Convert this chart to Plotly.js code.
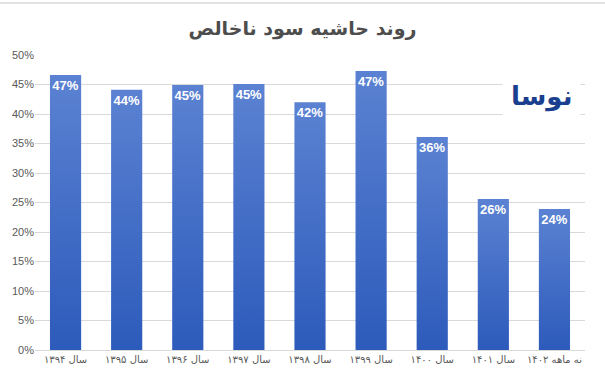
<!DOCTYPE html>
<html><head><meta charset="utf-8">
<script src="https://cdn.plot.ly/plotly-3.0.1.min.js"></script>
<style>body{margin:0;background:#fff}#c{width:605px;height:379px}</style>
</head><body><div id="c"></div>
<script>
const categories = ["سال ۱۳۹۴","سال ۱۳۹۵","سال ۱۳۹۶","سال ۱۳۹۷","سال ۱۳۹۸","سال ۱۳۹۹","سال ۱۴۰۰","سال ۱۴۰۱","نه ماهه ۱۴۰۲"];
const margins = [0.466, 0.441, 0.449, 0.451, 0.420, 0.473, 0.361, 0.256, 0.239];
const chartTitle = "روند حاشیه سود ناخالص";

const trace = {
  type: 'bar', x: categories, y: margins,
  marker: {color: '#4470c6'},
  texttemplate: '<b>%{y:.0%}</b>', textposition: 'inside', insidetextanchor: 'end', textangle: 0,
  textfont: {color: '#ffffff', size: 13, family: 'Liberation Sans, DejaVu Sans'},
  hoverinfo: 'skip', cliponaxis: false
};
const layout = {
  width: 605, height: 379,
  margin: {l: 35, r: 20, t: 55, b: 29},
  paper_bgcolor: '#fff', plot_bgcolor: '#fff',
  bargap: 0.49,
  showlegend: false,
  uniformtext: {mode: 'show', minsize: 13},
  title: {text: '<b>' + chartTitle + '</b>', font: {family: 'DejaVu Sans', size: 19, color: '#4d4d4d'}, x: 0.5, xanchor: 'center', y: 0.925, yanchor: 'middle'},
  xaxis: {tickfont: {family: 'DejaVu Sans', size: 10, color: '#595959'}, showline: true, linecolor: '#d9d9d9', ticks: '', fixedrange: true},
  yaxis: {range: [0, 0.5], dtick: 0.05, tickformat: '.0%', tickfont: {family: 'Liberation Sans, DejaVu Sans', size: 11, color: '#595959'}, gridcolor: '#d9d9d9', zeroline: false, showline: false, ticks: '', fixedrange: true},
  shapes: [{type: 'line', xref: 'paper', yref: 'paper', x0: -0.1, x1: 1.05, y0: 1.176, y1: 1.176, line: {color: '#d9d9d9', width: 1.5}}],
  annotations: [{
    xref: 'paper', yref: 'paper', x: 0.92, y: 0.86, xanchor: 'center', yanchor: 'middle',
    text: '<b>نوسا</b>', showarrow: false, bgcolor: '#ffffff', borderpad: 8,
    font: {family: 'DejaVu Sans', size: 26, color: '#1b3f8f'}
  }]
};
Plotly.newPlot('c', [trace], layout, {displayModeBar: false, staticPlot: true}).then(function(gd){
  const svg = gd.querySelector('svg.main-svg');
  const ns = 'http://www.w3.org/2000/svg';
  let defs = svg.querySelector('defs');
  if (!defs) { defs = document.createElementNS(ns, 'defs'); svg.insertBefore(defs, svg.firstChild); }
  const g = document.createElementNS(ns, 'linearGradient');
  g.setAttribute('id', 'barGrad'); g.setAttribute('x1', '0'); g.setAttribute('y1', '0'); g.setAttribute('x2', '0'); g.setAttribute('y2', '1');
  [['0', '#5b82d2'], ['1', '#2d5bbb']].forEach(function(s){
    const st = document.createElementNS(ns, 'stop'); st.setAttribute('offset', s[0]); st.setAttribute('stop-color', s[1]); g.appendChild(st);
  });
  defs.appendChild(g);
  gd.querySelectorAll('g.trace.bars path.point, .barlayer path').forEach(function(p){ p.style.fill = 'url(#barGrad)'; });
});
</script></body></html>
